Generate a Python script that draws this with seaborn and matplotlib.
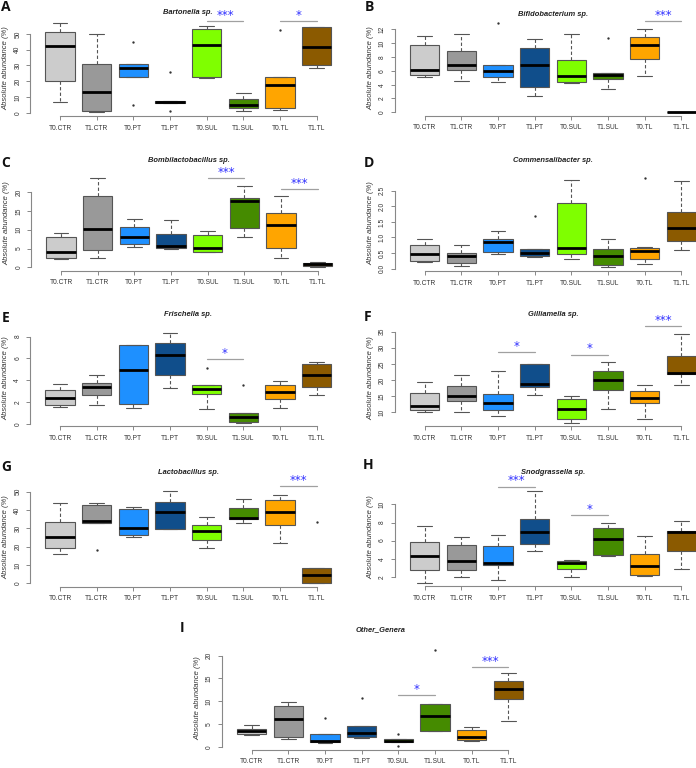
import numpy as np
import pandas as pd
import matplotlib
matplotlib.use("Agg")
import matplotlib.pyplot as plt
import seaborn as sns

groups = ["T0.CTR", "T1.CTR", "T0.PT", "T1.PT", "T0.SUL", "T1.SUL", "T0.TL", "T1.TL"]
colors = ["#cccccc", "#999999", "#1e90ff", "#104e8b", "#7fff00", "#458b00", "#ffa500", "#8b5a00"]

# box stats per panel: rows = whisker low, q1, median, q3, whisker high
bartonella = [[6.8, 0.2, 22.9, 5.9, 22.2, 0.85, 1.5, 28.2],
              [20.1, 1.3, 22.9, 5.9, 22.9, 3.2, 3.2, 30.1],
              [42.6, 13.1, 28.2, 6.8, 43.0, 4.7, 17.4, 41.7],
              [51.0, 30.7, 31.1, 7.4, 53.0, 8.5, 22.5, 54.2],
              [56.8, 49.8, 31.1, 7.4, 55.3, 12.3, 22.5, 54.2]]
bartonella_out = [(2, 44.9), (2, 5.1), (3, 25.6), (3, 0.85), (6, 52.3)]
bartonella_sig = [(4, 5, 58.4, "***"), (6, 7, 58.4, "*")]
bartonella_ticks = [0, 10, 20, 30, 40, 50]

bifido = [[5.1, 4.5, 4.4, 2.3, 4.2, 3.3, 5.2, 0.0],
          [5.4, 6.1, 5.1, 3.7, 4.4, 4.8, 7.7, 0.0],
          [6.1, 6.9, 5.9, 6.8, 5.2, 5.4, 9.8, 0.02],
          [9.7, 8.8, 6.9, 9.3, 7.5, 5.7, 10.9, 0.04],
          [11.1, 11.3, 6.9, 10.6, 11.3, 5.75, 12.1, 0.06]]
bifido_out = [(2, 12.9), (5, 10.8)]
bifido_sig = [(6, 7, 13.2, "***")]
bifido_ticks = [0, 2, 4, 6, 8, 10, 12]

bombi = [[2.2, 2.6, 5.3, 5.0, 4.0, 8.0, 2.4, 0.0],
         [2.4, 4.7, 6.1, 5.1, 4.1, 10.5, 5.2, 0.4],
         [4.2, 10.3, 8.2, 5.7, 5.1, 17.6, 11.3, 0.9],
         [8.1, 19.0, 10.8, 9.0, 8.5, 18.4, 14.4, 1.2],
         [9.2, 23.7, 13.0, 12.6, 9.7, 21.8, 19.0, 1.3]]
bombi_out = []
bombi_sig = [(4, 5, 23.9, "***"), (6, 7, 20.8, "***")]
bombi_ticks = [0, 5, 10, 15, 20]

commensali = [[0.21, 0.09, 0.48, 0.37, 0.30, 0.04, 0.15, 0.61],
              [0.26, 0.19, 0.53, 0.40, 0.48, 0.13, 0.32, 0.88],
              [0.48, 0.41, 0.84, 0.49, 0.67, 0.40, 0.56, 1.29],
              [0.77, 0.50, 0.94, 0.63, 2.09, 0.62, 0.66, 1.82],
              [0.96, 0.75, 1.21, 0.63, 2.84, 0.96, 0.68, 2.80]]
commensali_out = [(3, 1.70), (6, 2.90)]
commensali_sig = []
commensali_ticks = [0.0, 0.5, 1.0, 1.5, 2.0, 2.5]

frischella = [[1.55, 1.7, 1.5, 3.3, 1.35, 0.1, 1.45, 2.7],
              [1.7, 2.65, 1.8, 4.5, 2.75, 0.2, 2.3, 3.4],
              [2.4, 3.4, 4.9, 6.3, 3.2, 0.6, 2.9, 4.45],
              [3.15, 3.8, 7.2, 7.4, 3.55, 1.0, 3.55, 5.5],
              [3.7, 4.45, 7.25, 8.3, 3.6, 1.0, 3.9, 5.7]]
frischella_out = [(4, 5.15), (5, 3.55)]
frischella_sig = [(4, 5, 5.95, "*")]
frischella_ticks = [0, 2, 4, 6, 8]

gilliamella = [[10.0, 10.0, 9.0, 15.4, 6.8, 11.1, 8.0, 18.6],
               [10.8, 13.6, 10.6, 17.7, 7.9, 16.9, 12.8, 21.9],
               [12.0, 15.0, 13.0, 18.7, 11.1, 20.0, 14.4, 22.1],
               [16.0, 18.3, 15.6, 25.1, 14.2, 22.7, 16.5, 27.4],
               [19.4, 21.5, 22.7, 25.1, 15.2, 25.6, 18.6, 34.4]]
gilliamella_out = []
gilliamella_sig = [(2, 3, 28.6, "*"), (4, 5, 27.9, "*"), (6, 7, 36.8, "***")]
gilliamella_ticks = [10, 15, 20, 25, 30, 35]

lacto = [[15.8, 32.9, 25.1, 29.6, 19.1, 32.9, 22.0, 0.2],
         [19.5, 32.9, 26.4, 29.8, 23.5, 34.9, 31.6, 0.4],
         [25.1, 34.0, 30.4, 38.7, 28.4, 35.8, 38.7, 4.7],
         [33.6, 42.5, 40.7, 44.4, 32.0, 41.1, 45.6, 8.4],
         [43.6, 43.8, 41.8, 50.2, 36.4, 45.8, 48.2, 8.4]]
lacto_out = [(1, 18.2), (7, 33.3)]
lacto_sig = [(6, 7, 53.1, "***")]
lacto_ticks = [0, 10, 20, 30, 40, 50]

snodgrassella = [[1.34, 1.96, 1.63, 4.8, 2.0, 4.3, 2.04, 2.8],
                 [2.7, 2.7, 3.33, 5.65, 2.8, 4.36, 2.22, 4.9],
                 [4.32, 3.77, 3.5, 6.98, 3.5, 6.17, 3.22, 6.95],
                 [5.8, 5.5, 5.43, 8.35, 3.77, 7.4, 4.47, 7.05],
                 [7.57, 6.4, 6.6, 11.5, 3.8, 8.0, 6.47, 8.13]]
snodgrassella_out = []
snodgrassella_sig = [(2, 3, 11.98, "***"), (4, 5, 8.84, "*")]
snodgrassella_ticks = [2, 4, 6, 8, 10]

other = [[2.6, 1.7, 0.73, 1.9, 1.0, 3.4, 1.17, 5.7],
         [2.9, 2.05, 0.95, 2.2, 1.0, 3.4, 1.47, 10.5],
         [3.4, 6.1, 1.25, 3.1, 1.25, 6.7, 2.2, 12.7],
         [3.9, 8.9, 2.9, 4.6, 1.7, 9.3, 3.6, 14.4],
         [4.8, 9.8, 2.9, 4.6, 1.7, 9.3, 4.3, 16.3]]
other_out = [(2, 6.3), (3, 10.8), (4, 2.8), (4, 0.2), (5, 21.2)]
other_sig = [(4, 5, 11.3, "*"), (6, 7, 17.6, "***")]
other_ticks = [0, 5, 10, 15, 20]

panels = [
    ("A", "Bartonella sp.", bartonella, bartonella_out, bartonella_sig, bartonella_ticks),
    ("B", "Bifidobacterium sp.", bifido, bifido_out, bifido_sig, bifido_ticks),
    ("C", "Bombilactobacillus sp.", bombi, bombi_out, bombi_sig, bombi_ticks),
    ("D", "Commensalibacter sp.", commensali, commensali_out, commensali_sig, commensali_ticks),
    ("E", "Frischella sp.", frischella, frischella_out, frischella_sig, frischella_ticks),
    ("F", "Gilliamella sp.", gilliamella, gilliamella_out, gilliamella_sig, gilliamella_ticks),
    ("G", "Lactobacillus sp.", lacto, lacto_out, lacto_sig, lacto_ticks),
    ("H", "Snodgrassella sp.", snodgrassella, snodgrassella_out, snodgrassella_sig, snodgrassella_ticks),
    ("I", "Other_Genera", other, other_out, other_sig, other_ticks),
]

# layout in pixels: first category x, reference value, its y pixel, pixels per unit,
# title centre (x, y), panel letter (x, y)
W, H = 696, 768
SP = 36.67
LAYOUT = {
    "A": (60.0, 0, 112.7, 1.574, (188, 13), (6, 7)),
    "B": (424.7, 0, 112.3, 6.917, (553, 14), (369, 7)),
    "C": (61.0, 0, 267.3, 3.75, (189, 160), (6, 163)),
    "D": (424.7, 0, 268.7, 31.2, (553, 160), (369, 163)),
    "E": (60.0, 0, 424.0, 10.92, (188, 315), (6, 318)),
    "F": (424.7, 10, 412.3, 3.227, (553, 315), (368, 317)),
    "G": (60.0, 0, 583.3, 1.833, (188, 472), (6, 467)),
    "H": (424.7, 2, 576.7, 9.033, (553, 472), (368, 465)),
    "I": (251.7, 0, 746.7, 4.55, (381, 630), (182, 628)),
}

sns.set_style("ticks")
plt.rcParams["font.family"] = ["Liberation Sans", "DejaVu Sans"]

fig = plt.figure(figsize=(W / 100, H / 100), dpi=100)

for key, title, stats, outl, sig, ticks in panels:
    x0, rv, rp, ppu, tpos, lpos = LAYOUT[key]
    vals = np.array(stats).ravel().tolist() + [v for _, v in outl]
    lo, hi = min(vals), max(vals)
    pad = 0.04 * (hi - lo)
    y0, y1 = lo - pad, hi + pad
    bottom_px = rp + (rv - y0) * ppu
    h_px = (y1 - y0) * ppu
    left_px = x0 - 0.82 * SP
    w_px = 8.64 * SP
    ax = fig.add_axes([left_px / W, 1 - bottom_px / H, w_px / W, h_px / H])

    df = pd.DataFrame([(groups[i], stats[k][i]) for i in range(8) for k in range(5)],
                      columns=["group", "value"])
    sns.boxplot(data=df, x="group", y="value", order=groups, hue="group",
                hue_order=groups, palette=colors, legend=False, saturation=1,
                whis=(0, 100), showfliers=False, width=0.8, linecolor="#555555",
                linewidth=0.8, medianprops={"color": "black", "linewidth": 2},
                whiskerprops={"linestyle": (0, (3, 2))}, ax=ax)
    if outl:
        odf = pd.DataFrame([(groups[i], v) for i, v in outl], columns=["group", "value"])
        sns.stripplot(data=odf, x="group", y="value", order=groups, jitter=False,
                      color="#333333", size=1.7, ax=ax)

    for i, j, y, lab in sig:
        ax.plot([i, j], [y, y], color="#a0a0a0", lw=0.9, clip_on=False)
        ax.annotate(lab, xy=((i + j) / 2, y), xytext=(0, 1.5), textcoords="offset points",
                    ha="center", va="baseline", color="#3030ff", fontsize=8.5,
                    family="DejaVu Sans", annotation_clip=False)

    ax.set_xlim(-0.82, 7.82)
    ax.set_ylim(y0, y1)
    ax.set_xticks(range(8))
    ax.set_xticklabels(groups)
    ax.set_yticks(ticks)
    ax.set_yticklabels([f"{t:g}" if key != "D" else f"{t:.1f}" for t in ticks],
                       rotation=90, va="center")
    ax.set_xlabel("")
    ax.set_ylabel("Absolute abundance (%)", fontsize=5.5, style="italic", color="#333333")
    ax.yaxis.set_label_coords(-20.5 / w_px, 0.5)
    sns.despine(ax=ax)
    ax.spines["bottom"].set_bounds(0, 7)
    ax.spines["left"].set_bounds(ticks[0], ticks[-1])
    for s in ("bottom", "left"):
        ax.spines[s].set_color("#888888")
        ax.spines[s].set_linewidth(0.8)
    ax.tick_params(axis="both", length=3, width=0.7, color="#888888",
                   labelsize=4.8, labelcolor="#333333", pad=3.2)
    ax.set_facecolor("none")

    fig.text(tpos[0] / W, 1 - tpos[1] / H, title, ha="center", va="center",
             fontsize=5.4, style="italic", weight="bold", color="#222222")
    fig.text(lpos[0] / W, 1 - lpos[1] / H, key, ha="center", va="center",
             fontsize=10, weight="bold", family="Open Sans", color="#111111")

fig.savefig("out.png", dpi=100)
